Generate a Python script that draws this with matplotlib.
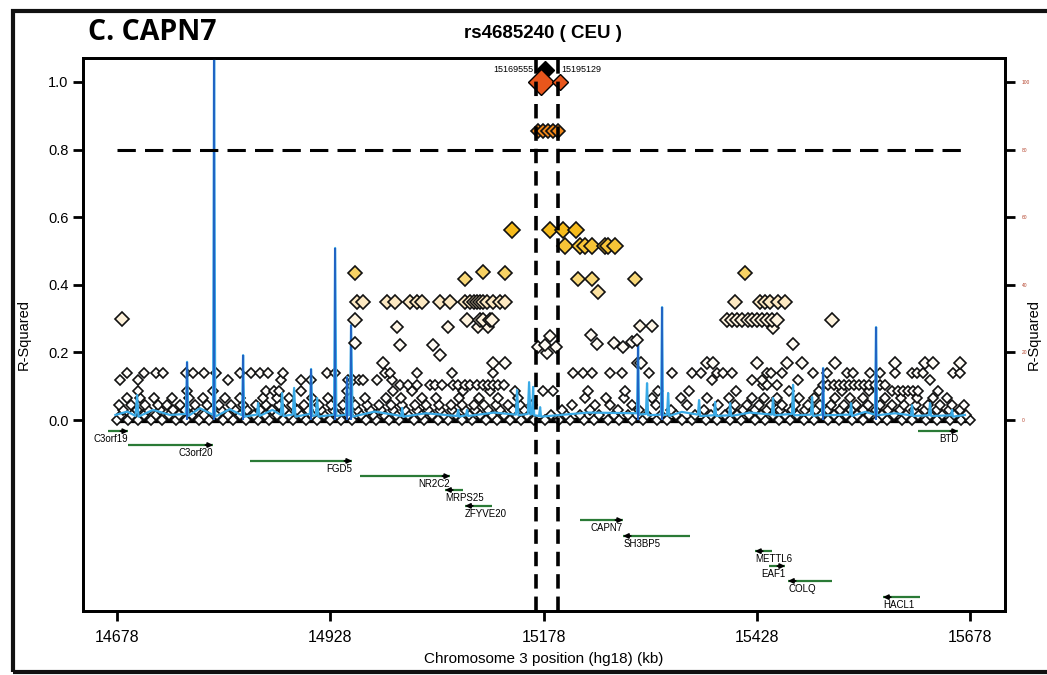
import numpy as np
import matplotlib.pyplot as plt
from matplotlib.colors import LinearSegmentedColormap
from matplotlib.patches import Rectangle

plt.rcParams['font.family'] = ['Liberation Sans', 'DejaVu Sans']

# query SNP pair (kb, hg18)
lead_pos = [15169.555, 15195.129]
lead_r2 = [1.0, 1.0]
lead_labels = ['15169555', '15195129']

# SNPs in LD r2 >= 0.19
high_pos = [15171.5, 15177, 15183, 15189, 15195,
            15141, 15186, 15201, 15216,
            15203, 15221, 15227, 15235, 15250, 15254, 15262,
            15218, 15235, 15285, 15086, 15242,
            15414, 14957, 15133, 15107,
            14959, 14966, 14994, 15004, 15021, 15030, 15035, 15057, 15068, 15086,
            15092, 15096, 15100, 15104, 15107, 15112, 15119, 15127, 15133,
            15403, 15432, 15438, 15444, 15453, 15461,
            14684,
            14957, 15088, 15103, 15107, 15115, 15117, 15393, 15399, 15405, 15411,
            15418, 15422, 15428, 15434, 15440, 15446, 15452, 15516,
            15006, 15066, 15101, 15113, 15447, 15291, 15305,
            15186, 15233, 14957, 15260,
            15010, 15048, 15180, 15241, 15470,
            15172, 15192, 15271, 15282, 15288, 15182, 15057]
high_r2 = [0.855, 0.855, 0.855, 0.855, 0.855,
           0.562, 0.562, 0.562, 0.562,
           0.515, 0.515, 0.515, 0.515, 0.515, 0.515, 0.515,
           0.417, 0.417, 0.417, 0.417, 0.379,
           0.435, 0.435, 0.435, 0.438,
           0.349, 0.349, 0.349, 0.349, 0.349, 0.349, 0.349, 0.349, 0.349, 0.349,
           0.349, 0.349, 0.349, 0.349, 0.349, 0.349, 0.349, 0.349, 0.349,
           0.349, 0.349, 0.349, 0.349, 0.349, 0.349,
           0.299,
           0.296, 0.296, 0.296, 0.296, 0.296, 0.296, 0.296, 0.296, 0.296, 0.296,
           0.296, 0.296, 0.296, 0.296, 0.296, 0.296, 0.296, 0.296,
           0.275, 0.275, 0.275, 0.275, 0.272, 0.278, 0.278,
           0.249, 0.251, 0.228, 0.228,
           0.222, 0.222, 0.222, 0.225, 0.225,
           0.216, 0.216, 0.216, 0.231, 0.237, 0.198, 0.192]

# weaker LD rows
row_169 = [14990, 15119, 15133, 15289, 15292, 15370, 15377, 15428, 15463, 15481,
           15520, 15590, 15625, 15635, 15666]
row_139 = [14689, 14709, 14723, 14732, 14759, 14767, 14780, 14794, 14822, 14835,
           14846, 14855, 14873, 14924, 14934, 14992, 14998, 15030, 15071, 15119,
           15213, 15224, 15235, 15256, 15270, 15301, 15329, 15352, 15362, 15381,
           15388, 15399, 15440, 15445, 15458, 15494, 15510, 15534, 15541, 15561,
           15573, 15590, 15610, 15616, 15623, 15658, 15666]
row_118 = [14681, 14702, 14808, 14870, 14894, 14905, 14949, 14955, 14961, 14966,
           14983, 15000, 15376, 15422, 15434, 15476, 15631]
row_105 = [15010, 15019, 15030, 15045, 15051, 15059, 15072, 15078, 15086, 15092,
           15100, 15107, 15113, 15119, 15125, 15131, 15435, 15440, 15452, 15506,
           15512, 15518, 15524, 15530, 15536, 15542, 15548, 15554, 15560, 15566,
           15572, 15578]
row_085 = [14702, 14760, 14790, 14853, 14862, 14868, 14893, 14947, 15001, 15024,
           15083, 15115, 15145, 15177, 15189, 15230, 15274, 15312, 15349, 15404,
           15466, 15501, 15528, 15560, 15587, 15593, 15599, 15605, 15611, 15617, 15640]
row_065 = [14689, 14705, 14721, 14742, 14762, 14779, 14805, 14822, 14849, 14866,
           14880, 14906, 14925, 14950, 14969, 14993, 15011, 15036, 15052, 15079,
           15102, 15125, 15148, 15226, 15251, 15272, 15305, 15339, 15370, 15395,
           15422, 15437, 15452, 15478, 15495, 15520, 15537, 15552, 15578, 15597,
           15616, 15634, 15651]
row_045 = [14680, 14694, 14711, 14726, 14737, 14752, 14769, 14783, 14797, 14811,
           14826, 14841, 14853, 14868, 14883, 14897, 14915, 14929, 14943, 14957,
           14971, 14985, 14999, 15012, 15027, 15040, 15055, 15069, 15082, 15096,
           15108, 15122, 15136, 15150, 15164, 15211, 15238, 15256, 15282, 15310,
           15346, 15383, 15402, 15416, 15431, 15445, 15458, 15473, 15488, 15502,
           15515, 15530, 15544, 15558, 15573, 15586, 15600, 15615, 15629, 15643,
           15657, 15671]
row_030 = [14685, 14701, 14714, 14728, 14744, 14757, 14771, 14788, 14800, 14816,
           14830, 14845, 14860, 14874, 14889, 14902, 14917, 14931, 14945, 14959,
           14975, 14987, 15001, 15015, 15030, 15043, 15057, 15071, 15086, 15098,
           15113, 15127, 15142, 15155, 15200, 15232, 15265, 15290, 15327, 15366,
           15398, 15412, 15426, 15440, 15455, 15469, 15484, 15497, 15511, 15526,
           15539, 15553, 15568, 15582, 15596, 15612, 15625, 15639, 15653, 15666]
row_015 = [14682, 14696, 14709, 14724, 14739, 14751, 14766, 14780, 14795, 14808,
           14822, 14838, 14851, 14865, 14879, 14894, 14907, 14921, 14936, 14949,
           14964, 14978, 14991, 15005, 15019, 15034, 15047, 15061, 15075, 15090,
           15103, 15117, 15131, 15146, 15159, 15187, 15204, 15221, 15243, 15260,
           15277, 15299, 15316, 15333, 15356, 15374, 15391, 15405, 15419, 15433,
           15447, 15461, 15475, 15489, 15503, 15518, 15532, 15546, 15560, 15575,
           15589, 15603, 15617, 15631, 15645, 15659, 15673]
row_000 = [14678, 14691, 14703, 14718, 14731, 14747, 14759, 14774, 14786, 14802,
           14814, 14829, 14843, 14856, 14872, 14884, 14900, 14912, 14927, 14941,
           14953, 14970, 14982, 14997, 15009, 15026, 15038, 15054, 15066, 15082,
           15094, 15110, 15123, 15139, 15151, 15167, 15180, 15196, 15209, 15225,
           15237, 15254, 15266, 15282, 15295, 15311, 15323, 15340, 15352, 15368,
           15381, 15397, 15409, 15426, 15438, 15454, 15467, 15483, 15495, 15512,
           15524, 15540, 15553, 15569, 15581, 15598, 15610, 15626, 15639, 15655,
           15667, 15678]
low_rows = [(row_169, 0.169), (row_139, 0.139), (row_118, 0.118), (row_105, 0.105),
            (row_085, 0.085), (row_065, 0.065), (row_045, 0.045), (row_030, 0.030),
            (row_015, 0.015), (row_000, 0.0)]

# recombination rate (cM/Mb)
recomb_pos = [14676, 14690, 14699.5, 14701.4, 14703, 14720, 14740, 14758.5, 14760, 14761.5,
              14775, 14790.5, 14791.7, 14793, 14810, 14824.5, 14825.7, 14827, 14842, 14843.3,
              14845, 14860, 14870, 14871.4, 14873, 14884, 14885.5, 14887, 14904, 14905.4,
              14907, 14911, 14912.5, 14914, 14932.3, 14933.6, 14935, 14946.3, 14947.6, 14949,
              14951, 14952.3, 14954, 14980, 15011, 15012.1, 15013.5, 15040, 15076.5, 15077.8,
              15079, 15087, 15088.3, 15089.5, 15120, 15145.5, 15146.9, 15148.5, 15159.5, 15161,
              15162.5, 15164.5, 15165.7, 15167, 15172.7, 15173.9, 15175, 15230, 15287.5, 15288.8,
              15290, 15298, 15299.3, 15300.5, 15315.7, 15316.9, 15318, 15322.8, 15324, 15325.3,
              15340, 15359, 15360.3, 15361.5, 15377.8, 15379.1, 15380.3, 15395.5, 15396.7, 15398,
              15420, 15445.7, 15447, 15448.3, 15469.3, 15470.5, 15471.8, 15491.5, 15492.8, 15494,
              15504.5, 15505.7, 15507, 15537.3, 15538.5, 15539.7, 15555, 15566.5, 15567.8, 15569,
              15590, 15608.8, 15610, 15611.3, 15629.8, 15631.1, 15632.4, 15655.7, 15656.9, 15658,
              15672]
recomb_rate = [1.5, 2.5, 1.2, 7.4, 1.0, 3.0, 1.5, 1.8, 17.2, 1.2,
               3.5, 1.5, 110, 1.0, 3.2, 1.4, 19.2, 1.0, 1.6, 5.0,
               1.2, 3.0, 1.5, 8.0, 1.2, 1.6, 9.5, 1.0, 1.8, 15.1,
               1.2, 1.4, 6.5, 1.0, 1.6, 50.9, 1.2, 1.6, 12.7, 1.4,
               1.5, 28.1, 1.0, 2.5, 1.2, 3.6, 1.0, 2.0, 1.2, 3.0,
               1.0, 1.4, 3.0, 1.2, 2.2, 1.6, 8.9, 1.4, 1.8, 11.2,
               1.6, 1.8, 9.8, 1.4, 1.2, 3.8, 1.0, 2.2, 2.0, 22.2,
               1.6, 1.8, 10.9, 1.4, 1.6, 33.4, 1.4, 1.6, 8.0, 1.2,
               2.4, 1.6, 5.9, 1.2, 1.4, 5.3, 1.2, 1.4, 5.0, 1.2,
               2.2, 1.6, 6.5, 1.4, 1.8, 10.4, 1.4, 1.6, 6.8, 1.2,
               1.6, 15.4, 1.4, 1.6, 5.0, 1.2, 2.4, 1.6, 27.5, 1.4,
               2.0, 1.4, 4.4, 1.2, 1.4, 5.0, 1.2, 1.4, 3.0, 1.0,
               1.5]
RATE_PER_R2 = 100.0

# RefSeq genes (kb)
gene_names = ['C3orf19', 'C3orf20', 'FGD5', 'NR2C2', 'MRPS25', 'ZFYVE20', 'CAPN7',
              'SH3BP5', 'METTL6', 'EAF1', 'COLQ', 'HACL1', 'BTD']
gene_start = [14667.4, 14690.9, 14833.9, 14962.9, 15062.5, 15086.0, 15220.8,
              15271.2, 15425.9, 15442.3, 15464.6, 15576.0, 15617.0]
gene_end = [14690.9, 14790.5, 14953.5, 15068.4, 15083.6, 15117.6, 15271.2,
            15349.7, 15445.9, 15461.1, 15516.2, 15619.4, 15663.9]
gene_strand = [1, 1, 1, 1, -1, -1, 1, -1, -1, 1, -1, -1, 1]
gene_row = [-0.033, -0.074, -0.121, -0.166, -0.207, -0.254, -0.296,
            -0.343, -0.388, -0.432, -0.476, -0.524, -0.033]

x_ticks = [14678, 14928, 15178, 15428, 15678]
y_ticks = [0.0, 0.2, 0.4, 0.6, 0.8, 1.0]

ld_cmap = LinearSegmentedColormap.from_list('ld', [
    (0.0, '#ffffff'), (0.25, '#fffaf2'), (0.35, '#fde9c2'), (0.43, '#f8d468'),
    (0.56, '#f6bb1c'), (0.85, '#f18a1a'), (1.0, '#e8561c')])


def marker_size(r2):
    return np.interp(r2, [0, 0.12, 0.2, 0.35, 0.45, 0.6, 0.9],
                     [4.9, 5.2, 6.2, 6.9, 7.3, 8.2, 6.8])


fig = plt.figure(figsize=(10.47, 6.75), dpi=100)
ax = fig.add_axes([0.0793, 0.0948, 0.8806, 0.8193])

# all SNPs, weakest first so stronger LD sits on top
all_pos = []
all_r2 = []
for row, val in low_rows[::-1]:
    all_pos += row
    all_r2 += [val] * len(row)
all_pos = np.array(all_pos + high_pos, dtype=float)
all_r2 = np.array(all_r2 + high_r2, dtype=float)
order = np.argsort(all_r2, kind='stable')

ax.plot([min(all_pos), max(all_pos)], [0, 0], color='black', lw=3.8, zorder=2)
for i in order:
    r2 = all_r2[i]
    ax.plot(all_pos[i], r2, marker='D', ms=marker_size(r2), mfc=ld_cmap(r2),
            mec='#111111', mew=1.2, ls='none', zorder=2.5 if r2 < 0.19 else 4)

# recombination rate
rate = np.array(recomb_rate) / RATE_PER_R2
ax.plot(recomb_pos, rate, color='#3aaae6', lw=1.6, zorder=3)
peaks = rate > 0.12
ax.vlines(np.array(recomb_pos)[peaks], 0, rate[peaks], color='#2064c4', lw=1.5, zorder=3.1)

# query SNPs
ax.plot(15180, 1.035, marker='D', ms=9, color='black', zorder=5)
ax.plot(lead_pos[0] + 5.5, lead_r2[0], marker='D', ms=13, mfc=ld_cmap(1.0), mec='black',
        mew=1.0, zorder=6)
ax.plot(lead_pos[1] + 2, lead_r2[1], marker='D', ms=8, mfc=ld_cmap(1.0), mec='black',
        mew=1.0, zorder=6)
ax.text(lead_pos[0] - 3, 1.038, lead_labels[0], ha='right', va='center', fontsize=6.5)
ax.text(lead_pos[1] + 4, 1.038, lead_labels[1], ha='left', va='center', fontsize=6.5)

for p in lead_pos:
    ax.axvline(p, color='black', lw=2.6, ls=(0, (4, 2.2)), zorder=7)
ax.plot([x_ticks[0], 15672], [0.8, 0.8], color='black', lw=2.2, ls=(0, (6, 3)), zorder=7)

# gene track
for name, s, e, strand, y in zip(gene_names, gene_start, gene_end, gene_strand, gene_row):
    ax.plot([s, e], [y, y], color='#2a7a36', lw=1.6, zorder=3, solid_capstyle='butt')
    head = e if strand > 0 else s
    tail = head - 9 * strand
    ax.annotate('', xy=(head, y), xytext=(tail, y),
                arrowprops=dict(arrowstyle='-|>', color='black', lw=1.3,
                                mutation_scale=7, shrinkA=0, shrinkB=0), zorder=4)
    ax.text(head, y - 0.024, name, ha='right' if strand > 0 else 'left', va='center',
            fontsize=7)

ax.set_xlim(14638, 15719)
ax.set_ylim(-0.565, 1.071)
ax.set_xticks(x_ticks)
ax.set_xticklabels([str(t) for t in x_ticks], fontsize=11.5)
ax.set_yticks(y_ticks)
ax.set_yticklabels(['%.1f' % t for t in y_ticks], fontsize=10.5)
ax.tick_params(axis='both', length=7, width=2, direction='out')
ax.tick_params(axis='x', pad=7)
for sp in ax.spines.values():
    sp.set_linewidth(2)
ax.set_xlabel('Chromosome 3 position (hg18) (kb)', fontsize=11, labelpad=5)
ax.set_ylabel('R-Squared', fontsize=10.5)
ax.yaxis.set_label_coords(-0.057, 0.5)

ax2 = ax.twinx()
ax2.set_ylim(-0.565 * RATE_PER_R2, 1.071 * RATE_PER_R2)
ax2.set_yticks([t * RATE_PER_R2 for t in y_ticks])
ax2.set_yticklabels(['%d' % (t * RATE_PER_R2) for t in y_ticks], fontsize=3.5,
                    color='#b5452e')
ax2.tick_params(axis='y', length=7, width=2, direction='out', pad=5)
ax2.set_ylabel('R-Squared', fontsize=10.5)
ax2.yaxis.set_label_coords(1.024, 0.5)
for sp in ax2.spines.values():
    sp.set_linewidth(2)

fig.text(88 / 1047, 1 - 33 / 675, 'C. CAPN7', fontsize=20.5, fontweight='bold',
         family=['Open Sans', 'DejaVu Sans'], ha='left', va='center')
fig.text(543 / 1047, 1 - 33 / 675, 'rs4685240 ( CEU )', fontsize=13.5, fontweight='bold',
         ha='center', va='center')

# page border, open past the right edge
fig.patches.append(Rectangle((13 / 1047, 1 - 672 / 675), 1060 / 1047, 661 / 675,
                             transform=fig.transFigure, fill=False, lw=3, ec='#111111'))

fig.savefig('out.png', dpi=100)
